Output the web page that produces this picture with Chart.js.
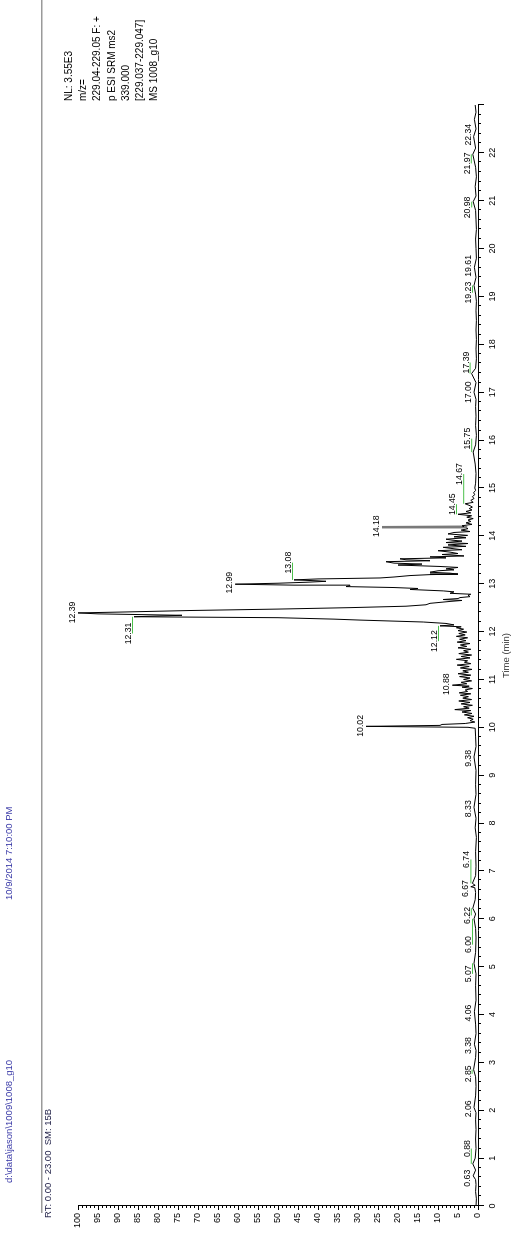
<!DOCTYPE html>
<html>
<head>
<meta charset="utf-8">
<script src="https://cdn.jsdelivr.net/npm/chart.js@4"></script>
<style>
  html, body { margin: 0; padding: 0; background: #fff; }
  body { width: 514px; height: 1258px; overflow: hidden; position: relative; }
  /* the printout is laid out landscape and turned a quarter left */
  #sheet {
    position: absolute; left: 0; top: 0;
    width: 1258px; height: 514px;
    transform-origin: 0 0;
    transform: translate(0, 1258px) rotate(-90deg);
  }
</style>
</head>
<body>
<div id="sheet"><canvas id="chrom" width="1258" height="514"></canvas></div>
<script>
// retention time (min) and relative abundance (%)
const retentionTimes = [
  0.00, 0.15, 0.30, 0.45, 0.55, 0.63, 0.75, 0.88, 1.00, 1.20, 1.40, 1.60, 1.80, 1.95, 2.06,
  2.30, 2.50, 2.70, 2.85, 3.10, 3.25, 3.38, 3.60, 3.80, 4.06, 4.30, 4.60, 4.85, 5.07, 5.30,
  5.60, 5.80, 6.00, 6.10, 6.22, 6.40, 6.55, 6.65, 6.67, 6.70, 6.74, 6.90, 7.10, 7.40, 7.70,
  7.90, 8.10, 8.33, 8.60, 8.80, 9.10, 9.38, 9.60, 9.80, 9.98, 10.00, 10.02, 10.04, 10.06, 10.08,
  10.11, 10.14, 10.17, 10.20, 10.23, 10.26, 10.29, 10.32, 10.35, 10.37, 10.40, 10.43, 10.46, 10.49, 10.52,
  10.55, 10.58, 10.61, 10.64, 10.67, 10.70, 10.72, 10.75, 10.78, 10.81, 10.84, 10.86, 10.88, 10.91, 10.94,
  10.97, 11.00, 11.03, 11.06, 11.09, 11.12, 11.15, 11.18, 11.21, 11.24, 11.27, 11.30, 11.33, 11.36, 11.39,
  11.42, 11.45, 11.48, 11.51, 11.54, 11.57, 11.60, 11.63, 11.66, 11.69, 11.72, 11.75, 11.78, 11.81, 11.84,
  11.87, 11.90, 11.93, 11.96, 11.99, 12.02, 12.05, 12.08, 12.10, 12.12, 12.14, 12.17, 12.20, 12.24, 12.26,
  12.29, 12.31, 12.34, 12.37, 12.39, 12.41, 12.44, 12.47, 12.50, 12.53, 12.56, 12.59, 12.61, 12.63, 12.65,
  12.67, 12.69, 12.71, 12.73, 12.76, 12.78, 12.80, 12.83, 12.85, 12.88, 12.90, 12.92, 12.94, 12.96, 12.97,
  12.99, 13.01, 13.03, 13.05, 13.06, 13.08, 13.10, 13.12, 13.14, 13.17, 13.19, 13.20, 13.22, 13.24, 13.27,
  13.29, 13.31, 13.34, 13.36, 13.39, 13.41, 13.43, 13.46, 13.48, 13.50, 13.52, 13.54, 13.56, 13.58, 13.61,
  13.63, 13.66, 13.69, 13.71, 13.73, 13.76, 13.78, 13.81, 13.84, 13.86, 13.89, 13.91, 13.93, 13.96, 13.98,
  14.01, 14.04, 14.07, 14.09, 14.12, 14.15, 14.17, 14.18, 14.19, 14.21, 14.24, 14.27, 14.30, 14.33, 14.36,
  14.39, 14.42, 14.45, 14.48, 14.51, 14.54, 14.57, 14.60, 14.63, 14.67, 14.70, 14.74, 14.78, 14.82, 14.86,
  14.90, 14.95, 15.00, 15.10, 15.30, 15.50, 15.75, 15.90, 16.10, 16.30, 16.50, 16.70, 16.85, 17.00, 17.20,
  17.39, 17.50, 17.70, 17.90, 18.10, 18.30, 18.50, 18.70, 18.90, 19.05, 19.23, 19.40, 19.61, 19.80, 20.00,
  20.20, 20.40, 20.60, 20.80, 20.98, 21.10, 21.30, 21.50, 21.70, 21.97, 22.10, 22.34, 22.50, 22.70, 22.85,
  23.00
];
const relAbundance = [
  0.5, 0.4, 0.6, 0.5, 0.6, 1.2, 0.6, 1.3, 0.7, 0.5, 0.6, 0.5, 0.6, 0.5, 1.0,
  0.6, 0.5, 0.6, 1.1, 0.6, 0.5, 0.9, 0.5, 0.6, 0.9, 0.5, 0.6, 0.5, 1.0, 0.6,
  0.5, 0.6, 1.0, 0.6, 1.3, 0.7, 0.6, 0.8, 1.8, 0.7, 1.4, 0.6, 0.5, 0.6, 0.4,
  0.7, 0.5, 1.0, 0.5, 0.6, 0.5, 1.0, 0.5, 0.6, 0.7, 2.5, 28, 9.5, 9.0, 3.2,
  0.8, 2.0, 1.2, 2.6, 1.0, 3.4, 1.5, 4.0, 1.8, 5.8, 2.2, 3.6, 1.4, 4.2, 2.0,
  4.8, 1.6, 3.8, 2.4, 4.4, 1.8, 4.7, 2.6, 3.2, 1.4, 4.0, 2.2, 6.4, 2.8, 4.2,
  1.6, 3.6, 2.0, 4.6, 1.8, 5.0, 2.4, 3.8, 1.5, 4.4, 2.2, 5.2, 1.8, 3.4, 2.6,
  5.4, 2.0, 4.2, 1.6, 4.8, 2.4, 3.6, 1.8, 5.0, 2.8, 4.4, 2.0, 5.2, 3.0, 4.6,
  2.6, 5.4, 3.2, 4.8, 2.8, 5.0, 3.6, 5.4, 4.2, 9.5, 6.0, 8.0, 13.7, 29.5, 36,
  50, 86, 74, 95, 100, 88, 72, 50, 32, 18, 13, 12, 9.5, 7, 4,
  8.7, 5, 4.5, 2.0, 2.5, 1.8, 7, 6, 8.7, 17, 15, 21, 33, 32, 46,
  60.7, 50, 43, 38, 40, 46, 40, 24.5, 21, 17, 12, 5, 7, 12, 10,
  6, 8, 5, 9.5, 20, 14, 21, 23, 12, 18, 19.5, 8, 12, 3.5, 9,
  5, 7, 10, 4, 6, 8.7, 3, 7.5, 2.5, 8, 4, 6.5, 8, 3, 6,
  2.6, 7.5, 6, 2, 4.2, 2.5, 3, 24, 3.5, 4, 1.5, 3, 1.8, 2.5, 1.2,
  2.8, 1.6, 5, 1.8, 3, 1.5, 2.2, 1.4, 2.0, 3.2, 1.2, 1.8, 1.0, 1.4, 0.8,
  1.1, 0.6, 0.8, 0.6, 0.5, 0.7, 1.2, 0.6, 0.4, 0.6, 0.5, 0.6, 0.5, 1.0, 0.5,
  1.6, 0.6, 0.4, 0.5, 0.4, 0.5, 0.4, 0.5, 0.4, 0.6, 1.0, 0.5, 0.9, 0.4, 0.5,
  0.6, 0.4, 0.5, 0.6, 1.2, 0.5, 0.7, 0.4, 0.6, 1.3, 0.6, 1.1, 0.5, 0.9, 0.5,
  0.7
];

// labelled peaks: apex time, and the time the label text is centred on
const peakLabelTimes = [0.63, 0.88, 2.06, 2.85, 3.38, 4.06, 5.07, 6.00, 6.22, 6.67, 6.74, 8.33, 9.38,
  10.02, 10.88, 12.12, 12.31, 12.39, 12.99, 13.08, 14.18, 14.45, 14.67, 15.75, 17.00, 17.39,
  19.23, 19.61, 20.98, 21.97, 22.34];
const peakLabelAt = [0.58, 1.20, 2.03, 2.76, 3.35, 4.03, 4.85, 5.46, 6.07, 6.63, 7.24, 8.30, 9.35,
  10.03, 10.90, 11.80, 11.96, 12.40, 13.02, 13.44, 14.20, 14.66, 15.29, 16.03, 17.00, 17.62,
  19.08, 19.64, 20.86, 21.78, 22.38];

const infoLines = ["NL: 3.55E3", "m/z=", "229.04-229.05 F: +", "p ESI SRM ms2", "339.000",
  "[229.037-229.047]", "MS 1008_g10"];

const FONT = '"Liberation Sans", Arial, sans-serif';
Chart.defaults.font.family = FONT;

const overlay = {
  id: "overlay",
  afterDraw(chart) {
    const ctx = chart.ctx;
    const xs = chart.scales.x;
    const ys = chart.scales.y;
    const area = chart.chartArea;
    ctx.save();

    // minor ticks: 0.2 min on time, 1 % on abundance
    ctx.strokeStyle = "#000";
    ctx.lineWidth = 1;
    ctx.beginPath();
    for (let k = 1; k < 115; k++) {
      if (k % 5 === 0) continue;
      const px = Math.round(xs.getPixelForValue(k / 5)) + 0.5;
      ctx.moveTo(px, area.bottom);
      ctx.lineTo(px, area.bottom + 3);
    }
    for (let v = 1; v < 100; v++) {
      if (v % 5 === 0) continue;
      const py = Math.round(ys.getPixelForValue(v)) + 0.5;
      ctx.moveTo(area.left, py);
      ctx.lineTo(area.left - 2, py);
    }
    ctx.stroke();

    // peak labels, with a green flag when the text had to move
    ctx.font = "8.7px " + FONT;
    ctx.textAlign = "center";
    ctx.textBaseline = "alphabetic";
    peakLabelTimes.forEach((t, i) => {
      const v = relAbundance[retentionTimes.indexOf(t)];
      const x = xs.getPixelForValue(t);
      const y = ys.getPixelForValue(v);
      const lx = xs.getPixelForValue(peakLabelAt[i]);
      if (Math.abs(peakLabelAt[i] - t) > 0.06) {
        ctx.strokeStyle = "#4cc04c";
        ctx.beginPath();
        ctx.moveTo(x, y - 1.5);
        ctx.lineTo(lx, y - 1.5);
        ctx.stroke();
      }
      ctx.fillStyle = "#000";
      ctx.fillText(t.toFixed(2), lx, y - 3);
    });

    // file header
    ctx.textAlign = "left";
    ctx.font = "9.5px " + FONT;
    ctx.fillStyle = "#3b3ba8";
    ctx.fillText("d:\\data\\jason\\1009\\1008_g10", 75, 12);
    ctx.fillText("10/9/2014 7:10:00 PM", 358, 12);
    ctx.strokeStyle = "#9a9a9a";
    ctx.lineWidth = 1.5;
    ctx.beginPath();
    ctx.moveTo(45, 41.75);
    ctx.lineTo(1258, 41.75);
    ctx.stroke();
    ctx.fillStyle = "#23234a";
    ctx.fillText("RT: 0.00 - 23.00  SM: 15B", 40, 51);

    // trace info block
    ctx.font = "10px " + FONT;
    ctx.fillStyle = "#000";
    infoLines.forEach((s, i) => ctx.fillText(s, 1157, 72 + i * 14.2));

    ctx.restore();
  }
};

new Chart(document.getElementById("chrom"), {
  type: "line",
  data: {
    datasets: [{
      data: retentionTimes.map((t, i) => ({ x: t, y: relAbundance[i] })),
      borderColor: "#000",
      borderWidth: 1,
      pointRadius: 0,
      tension: 0,
      segment: {
        borderColor: (c) => (c.p0.parsed.x === 14.18 || c.p1.parsed.x === 14.18) ? "#7a7a7a" : undefined,
        borderWidth: (c) => (c.p0.parsed.x === 14.18 || c.p1.parsed.x === 14.18) ? 2.5 : undefined
      }
    }]
  },
  options: {
    responsive: false,
    animation: false,
    devicePixelRatio: 1,
    layout: { padding: { left: 12, right: 105, top: 78, bottom: 0 } },
    plugins: { legend: { display: false }, tooltip: { enabled: false } },
    scales: {
      x: {
        type: "linear",
        min: 0,
        max: 23,
        afterFit: (s) => { s.height = 36; },
        ticks: {
          stepSize: 1,
          autoSkip: false,
          maxRotation: 0,
          padding: 3,
          color: "#000",
          font: { size: 9 },
          callback: (v) => (v < 23 ? v : "")
        },
        grid: { drawOnChartArea: false, tickLength: 6, color: "#000" },
        border: { color: "#000", width: 1 },
        title: {
          display: true,
          text: "Time (min)",
          color: "#333",
          font: { size: 9.5 },
          padding: { top: 0, bottom: 2 }
        }
      },
      y: {
        min: 0,
        max: 100,
        afterFit: (s) => { s.width = 40; },
        ticks: {
          stepSize: 5,
          autoSkip: false,
          padding: 3,
          color: "#000",
          font: { size: 9 }
        },
        grid: { drawOnChartArea: false, tickLength: 4, color: "#000" },
        border: { color: "#000", width: 1 }
      }
    }
  },
  plugins: [overlay]
});
</script>
</body>
</html>
